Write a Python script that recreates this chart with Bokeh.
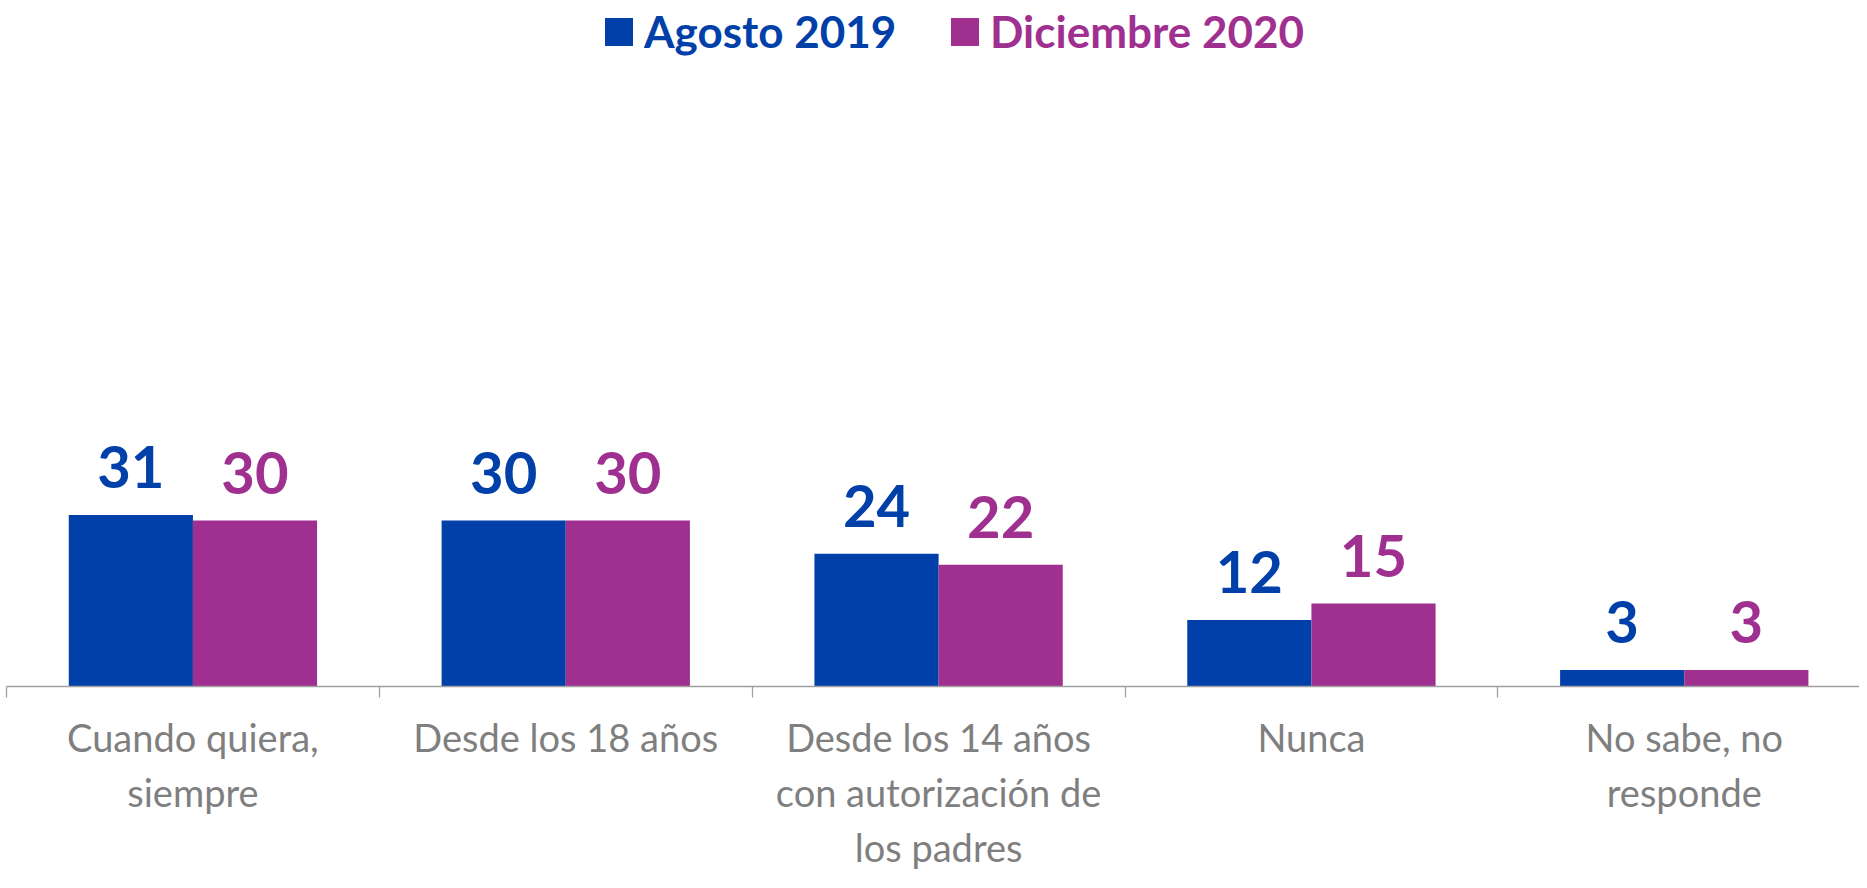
from bokeh.plotting import figure
from bokeh.models import (ColumnDataSource, Range1d, FixedTicker, Legend, LegendItem)
from bokeh.transform import dodge
from bokeh.core.properties import value
from bokeh.embed import file_html
from bokeh.resources import INLINE

categories = ["Cuando quiera,\nsiempre", "Desde los 18 años",
              "Desde los 14 años\ncon autorización de\nlos padres", "Nunca",
              "No sabe, no\nresponde"]
series_names = ["Agosto 2019", "Diciembre 2020"]
agosto_2019 = [31, 30, 24, 12, 3]
diciembre_2020 = [30, 30, 22, 15, 3]

BLUE = "#0040A8"
PURPLE = "#9F3090"
GREY = "#7F7F7F"
FONT = "Lato"

pos = [i + 0.5 for i in range(len(categories))]
src = ColumnDataSource(dict(x=pos, a=agosto_2019, d=diciembre_2020,
                            at=[str(v) for v in agosto_2019],
                            dt=[str(v) for v in diciembre_2020]))

p = figure(width=1859, height=872, output_backend="svg", toolbar_location=None,
           x_range=Range1d(0, 4.97), y_range=Range1d(0, 124),
           min_border_left=6, min_border_right=0, min_border_top=0, min_border_bottom=0)

bw = 0.333
r1 = p.vbar(x=dodge("x", -bw / 2, range=p.x_range), top="a", width=bw, source=src,
            fill_color=BLUE, line_color=None)
r2 = p.vbar(x=dodge("x", bw / 2, range=p.x_range), top="d", width=bw, source=src,
            fill_color=PURPLE, line_color=None)

p.text(x=dodge("x", -bw / 2, range=p.x_range), y="a", text="at", source=src,
       text_color=BLUE, text_font=value(FONT), text_font_style="bold",
       text_font_size="58px", text_align="center", text_baseline="alphabetic",
       y_offset=-48)
p.text(x=dodge("x", bw / 2, range=p.x_range), y="d", text="dt", source=src,
       text_color=PURPLE, text_font=value(FONT), text_font_style="bold",
       text_font_size="58px", text_align="center", text_baseline="alphabetic",
       y_offset=-48)

# axes
p.yaxis.visible = False
p.grid.visible = False
p.outline_line_color = None
xa = p.xaxis[0]
xa.ticker = FixedTicker(ticks=pos, minor_ticks=list(range(len(categories) + 1)))
xa.major_label_overrides = {pos[i]: c for i, c in enumerate(categories)}
xa.major_tick_out = 0
xa.major_tick_in = 0
xa.minor_tick_out = 11
xa.minor_tick_in = 0
xa.minor_tick_line_color = "#A0A0A0"
xa.minor_tick_line_width = 1.3
xa.axis_line_color = "#A0A0A0"
xa.axis_line_width = 1.3
xa.major_label_text_font = FONT
xa.major_label_text_font_size = "38px"
xa.major_label_text_color = GREY
xa.major_label_text_line_height = 1.2
xa.major_label_standoff = 16
xa.major_label_orientation = "horizontal"

# legends (two, for per-item colour)
for r, name, col, x in [(r1, series_names[0], BLUE, 595), (r2, series_names[1], PURPLE, 941)]:
    lg = Legend(items=[LegendItem(label=name, renderers=[r])], location=(x, 629),
                orientation="horizontal", padding=0, margin=0, spacing=0,
                glyph_width=35, glyph_height=35, label_height=35, label_standoff=8,
                label_text_font=FONT, label_text_font_style="bold",
                label_text_font_size="44px", label_text_color=col,
                border_line_alpha=0, background_fill_alpha=0)
    p.add_layout(lg, "center")

open("out.html", "w").write(file_html(p, INLINE))
